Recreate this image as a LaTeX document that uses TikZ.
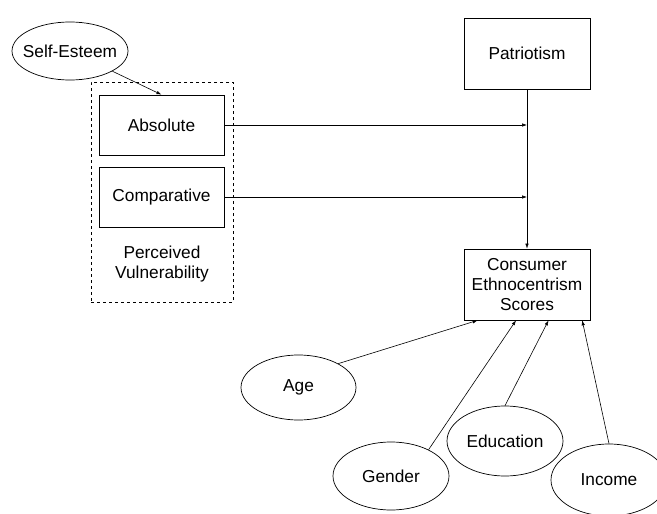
\documentclass[tikz,border=0pt]{standalone}
\usepackage{fontspec}
\setmainfont{Liberation Sans}
\usetikzlibrary{arrows.meta, shapes.geometric}

\begin{document}
\begin{tikzpicture}[x=1pt, y=-1pt, line width=0.7pt,
    every node/.style={font=\fontsize{17.3}{20}\selectfont}]
        % frame of the picture
        \useasboundingbox (0,0) rectangle (657,514);
        \def\tight#1{\makebox[0pt]{#1}} % text that does not widen an ellipse

        % styles
        \tikzstyle{factor} = [rectangle, draw=black, minimum width=125pt, minimum height=60pt, inner sep=0pt]
        \tikzstyle{outcome} = [rectangle, draw=black, minimum width=126pt, minimum height=71pt, inner sep=0pt, align=center]
        \tikzstyle{trait} = [ellipse, draw=black, minimum width=116pt, inner sep=0pt]
        \tikzstyle{link} = [-{Latex[length=5pt,width=3.5pt]}, line width=0.6pt]

        % 1. perceived vulnerability group
        \node[draw=black, dashed, minimum width=142pt, minimum height=220pt, inner sep=0pt] (pv) at (162,192) {};
        \node[factor] (absolute) at (161.5,125) {Absolute};
        \node[factor] (comparative) at (161.5,197) {Comparative};
        \node[align=center] (pvlabel) at (162,264) {Perceived\\Vulnerability};

        % 2. self-esteem
        \node[trait, minimum height=58pt] (selfesteem) at (70,51) {\tight{Self-Esteem}};

        % 3. patriotism and the outcome
        \node[outcome] (patriotism) at (527,53.5) {Patriotism};
        \node[outcome] (ces) at (527,284.5) {Consumer\\Ethnocentrism\\Scores};

        % 4. demographic ellipses
        \node[trait, minimum width=115pt, minimum height=65pt] (age) at (298.5,387.5) {\tight{Age}};
        \node[trait, minimum height=68pt] (gender) at (391,476) {\tight{Gender}};
        \node[trait, minimum height=70pt] (education) at (505,441) {\tight{Education}};
        \node[trait, minimum height=72pt] (income) at (609,480) {\tight{Income}};

        % meeting points on the vertical line
        \coordinate (jabs) at (absolute.east -| patriotism.south);
        \coordinate (jcomp) at (comparative.east -| patriotism.south);

        % 5. connectors
        \draw[link] (selfesteem) -- (absolute.north);
        \draw[link] (absolute) -- (jabs);
        \draw[link] (comparative) -- (jcomp);
        \draw[link] (patriotism) -- (ces);
        \draw[link] (age.31) -- (ces.216);
        \draw[link] (gender.35) -- (ces.253);
        \draw[link] (education.north) -- (ces.301);
        \draw[link] (income.north) -- (ces.327);

    \end{tikzpicture}
\end{document}
